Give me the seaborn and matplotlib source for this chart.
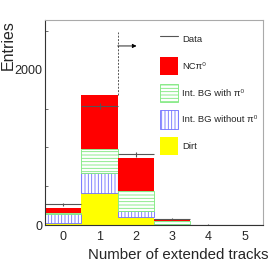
import numpy as np
import seaborn as sns
import matplotlib.pyplot as plt
from matplotlib.patches import Patch
from matplotlib.lines import Line2D

tracks = [0, 1, 2, 3, 4, 5]
dirt = [30, 409, 107, 3, 1, 0]
bg_without = [108, 266, 74, 8, 1, 0]
bg_with = [21, 306, 258, 42, 2, 0]
nc_pi0 = [64, 696, 429, 20, 1, 0]
data = [267, 1535, 912, 75, 6, 1]
data_err = [16, 39, 30, 9, 2, 1]

sns.set_style('white')
plt.rcParams['font.family'] = ['Liberation Sans', 'DejaVu Sans']
plt.rcParams['hatch.linewidth'] = 0.6

fig = plt.figure(figsize=(2.75, 2.62), dpi=100)
ax = fig.add_axes([45 / 275, 37 / 262, 218 / 275, 205 / 262])

x = np.array(tracks)
b1 = np.array(dirt)
b2 = b1 + np.array(bg_without)
b3 = b2 + np.array(bg_with)

ax.bar(x, dirt, width=1.0, color='#ffff00', edgecolor='none', linewidth=0)
ax.bar(x, bg_without, width=1.0, bottom=b1, color='white', edgecolor='#6f6fff',
       hatch='|||||', linewidth=0.6)
ax.bar(x, bg_with, width=1.0, bottom=b2, color='white', edgecolor='#7ae87a',
       hatch='-----', linewidth=0.6)
ax.bar(x, nc_pi0, width=1.0, bottom=b3, color='#ff0000', edgecolor='none', linewidth=0)

ax.errorbar(x, data, xerr=0.5, yerr=data_err, fmt='none', ecolor='#555555',
            elinewidth=0.8, capsize=0)

# cut line and arrow
ax.plot([1.5, 1.5], [1677, 2490], ls=(0, (2, 1.5)), color='#555555', lw=0.7)
ax.annotate('', xy=(2.02, 2310), xytext=(1.5, 2310),
            arrowprops=dict(arrowstyle='-|>', color='black', lw=0.6,
                            mutation_scale=6, shrinkA=0, shrinkB=0))

ax.set_xlim(-0.5, 5.5)
ax.set_ylim(0, 2645)
ax.set_xticks(tracks)
ax.set_yticks([0, 2000])
ax.set_yticks([500, 1000, 1500, 2500], minor=True)
ax.tick_params(axis='both', which='major', direction='in', length=4, width=0.6,
               labelsize=9, color='#555555')
ax.tick_params(axis='y', which='minor', direction='in', length=2.5, width=0.6,
               left=True, color='#555555')
ax.tick_params(axis='x', which='major', length=2.5, pad=4)
ax.tick_params(axis='y', which='major', pad=2)

for side in ['left', 'bottom']:
    ax.spines[side].set_color('#333333')
    ax.spines[side].set_linewidth(0.8)
for side in ['top', 'right']:
    ax.spines[side].set_color('#aaaaaa')
    ax.spines[side].set_linewidth(0.8)

ax.set_xlabel('Number of extended tracks', fontsize=10.8, loc='right')
ax.xaxis.set_label_coords(1.025, -0.11)
ax.set_ylabel('Entries', fontsize=11.5, loc='top')
ax.yaxis.set_label_coords(-0.135, 1.0)

handles = [
    Line2D([0], [0], color='#555555', lw=0.8),
    Patch(facecolor='#ff0000', edgecolor='none'),
    Patch(facecolor='white', edgecolor='#7ae87a', hatch='-----', linewidth=0.6),
    Patch(facecolor='white', edgecolor='#6f6fff', hatch='|||||', linewidth=0.6),
    Patch(facecolor='#ffff00', edgecolor='none'),
]
labels = ['Data', 'NCπ⁰', 'Int. BG with π⁰', 'Int. BG without π⁰', 'Dirt']
fig.legend(handles, labels, loc='upper left', bbox_to_anchor=(160 / 275, 232 / 262),
           bbox_transform=fig.transFigure, frameon=False, fontsize=6.8,
           handlelength=1.9, handleheight=2.6, labelspacing=0.9,
           handletextpad=0.45, borderpad=0, borderaxespad=0)

fig.savefig('out.png', dpi=100)
